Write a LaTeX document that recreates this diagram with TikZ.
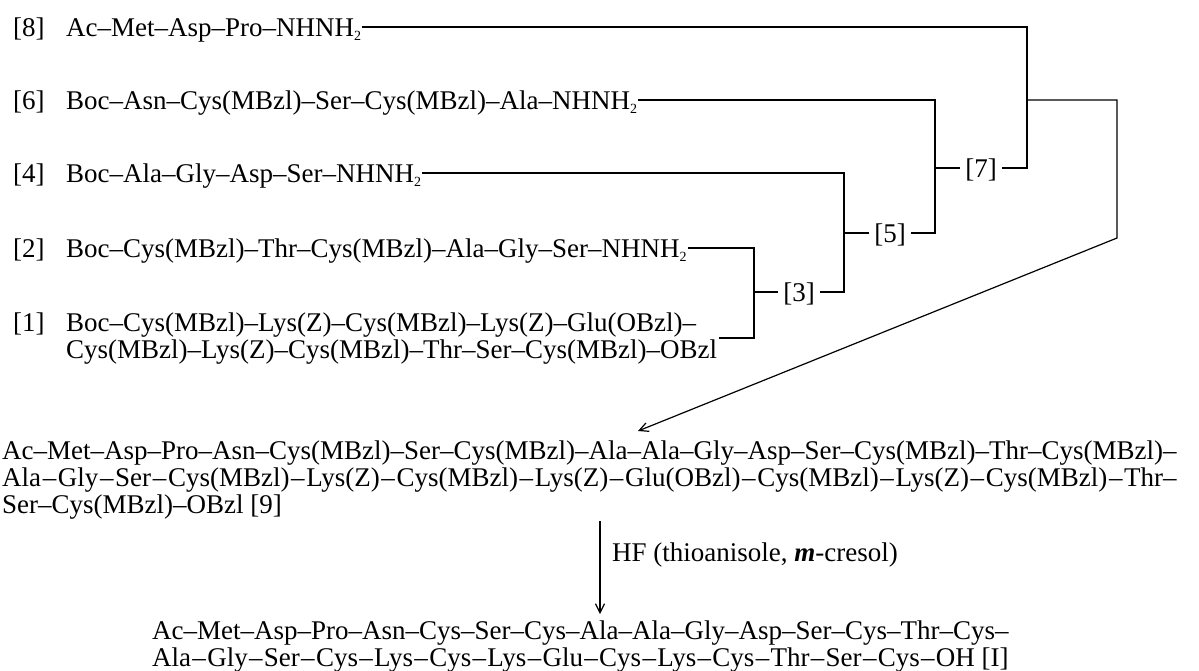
\documentclass[tikz,border=0pt]{standalone}
\usepackage{fontspec}
\setmainfont{Liberation Serif}
\usetikzlibrary{arrows.meta}
\newcommand\subtwo{\raisebox{-0.35ex}{\fontsize{14}{14}\selectfont 2}}
\newcommand\bigfont{\fontsize{27}{27}\selectfont}
\newsavebox\nineone
\newsavebox\finone
\begin{document}
\sbox\nineone{\bigfont Ac–Met–Asp–Pro–Asn–Cys(MBzl)–Ser–Cys(MBzl)–Ala–Ala–Gly–Asp–Ser–Cys(MBzl)–Thr–Cys(MBzl)–}
\sbox\finone{\bigfont Ac–Met–Asp–Pro–Asn–Cys–Ser–Cys–Ala–Ala–Gly–Asp–Ser–Cys–Thr–Cys–}
\newcommand\sd{\hspace{0pt plus 1fil}–\hspace{0pt plus 1fil}}
\begin{tikzpicture}[x=1pt,y=-1pt,
  txt/.style={font=\bigfont, inner sep=0pt, text height=18pt, text depth=0pt, anchor=base west},
  blk/.style={font=\bigfont, inner sep=0pt, align=left, anchor=base west},
  jn/.style={font=\bigfont, inner xsep=5pt, inner ysep=0pt, text height=18pt, text depth=0pt},
  ln/.style={line width=1.2pt},
  arr/.style={ln, -{Straight Barb[length=9pt,width=9pt]}}]
\useasboundingbox (0,0) rectangle (1199,670);
% starting fragments
\node[txt] (l8) at (13,36) {[8]};
\node[txt] (t8) at (66,36) {Ac–Met–Asp–Pro–NHNH\subtwo};
\node[txt] (l6) at (13,109) {[6]};
\node[txt] (t6) at (66,109) {Boc–Asn–Cys(MBzl)–Ser–Cys(MBzl)–Ala–NHNH\subtwo};
\node[txt] (l4) at (13,182) {[4]};
\node[txt] (t4) at (66,182) {Boc–Ala–Gly–Asp–Ser–NHNH\subtwo};
\node[txt] (l2) at (13,257) {[2]};
\node[txt] (t2) at (66,257) {Boc–Cys(MBzl)–Thr–Cys(MBzl)–Ala–Gly–Ser–NHNH\subtwo};
\node[txt] (l1) at (13,331) {[1]};
% base anchor of a multi-line node is its last line
\node[blk] (t1) at (66,358) {Boc–Cys(MBzl)–Lys(Z)–Cys(MBzl)–Lys(Z)–Glu(OBzl)–\\Cys(MBzl)–Lys(Z)–Cys(MBzl)–Thr–Ser–Cys(MBzl)–OBzl};
% junction labels
\node[jn] (j3) at (799,292) {[3]};
\node[jn] (j5) at (890,233) {[5]};
\node[jn] (j7) at (981,168) {[7]};
% bracket columns
\coordinate (b3) at (754,0);
\coordinate (b5) at (844,0);
\coordinate (b7) at (935,0);
\coordinate (b9) at (1027,0);
\coordinate (f1) at (1117,100);
\coordinate (f2) at (1117,238);
\coordinate (tip) at (638,431);
% products
\node[blk] (p9) at (2,513) {\usebox\nineone\\
  \makebox[\wd\nineone][s]{Ala\sd Gly\sd Ser\sd Cys(MBzl)\sd Lys(Z)\sd Cys(MBzl)\sd Lys(Z)\sd Glu(OBzl)\sd Cys(MBzl)\sd Lys(Z)\sd Cys(MBzl)\sd Thr–}\\
  Ser–Cys(MBzl)–OBzl [9]};
\node[txt] (hf) at (612,561) {HF (thioanisole, \textbf{\textit{m}}-cresol)};
\node[blk] (pI) at (152,666) {\usebox\finone\\
  \makebox[\wd\finone][s]{Ala\sd Gly\sd Ser\sd Cys\sd Lys\sd Cys\sd Lys\sd Glu\sd Cys\sd Lys\sd Cys\sd Thr\sd Ser\sd Cys\sd OH [I]}};
\coordinate (va) at (600,521);
% connectors
\draw[ln] ([xshift=1pt]t2.east) -| (b3 |- t1.east) -- ([xshift=2pt]t1.east);
\draw[ln] (j3.west) -- (j3.west -| b3);
\draw[ln] ([xshift=1pt]t4.east) -| (b5 |- j3.east) -- (j3.east);
\draw[ln] (j5.west) -- (j5.west -| b5);
\draw[ln] ([xshift=1pt]t6.east) -| (b7 |- j5.east) -- (j5.east);
\draw[ln] (j7.west) -- (j7.west -| b7);
\draw[ln] ([xshift=1pt]t8.east) -| (b9 |- j7.east) -- (j7.east);
\draw[arr] (b9 |- f1) -- (f1) -- (f2) -- (tip);
\draw[arr] (va) -- ([yshift=6pt]va |- pI.north);
\end{tikzpicture}
\end{document}
